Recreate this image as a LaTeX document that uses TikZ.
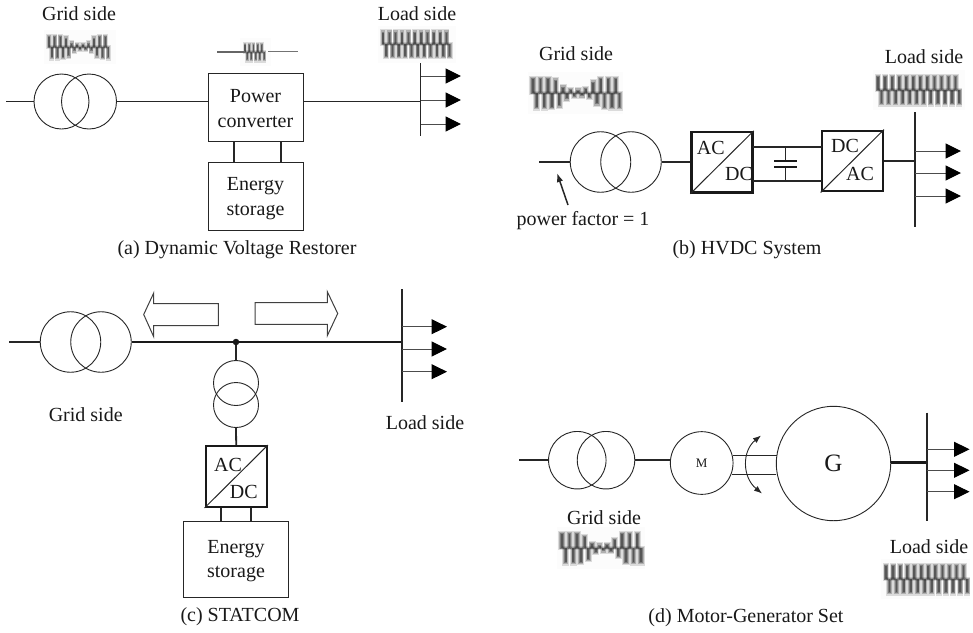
\documentclass[tikz,border=0pt]{standalone}
\usepackage{fontspec}
\setmainfont{Liberation Serif}
\usetikzlibrary{arrows.meta}
\newcommand{\pwmwave}[5]{% x0,x1,ymid,h,dip
  \pgfmathsetmacro{\wspc}{.47*#4}
  \pgfmathtruncatemacro{\wnum}{(#2-#1)/\wspc}
  \fill[black!1] (#1-5,#3-#4-5) rectangle (#2+5,#3+#4+5);
  \foreach \wi in {0,...,\wnum}{
    \pgfmathsetmacro{\wx}{#1+\wi*\wspc}
    \pgfmathsetmacro{\wt}{(\wx-#1)/(#2-#1)}
    \pgfmathsetmacro{\wa}{#4*(1-#5*exp(-((\wt-.5)/.2)^4))}
    \pgfmathsetmacro{\wxb}{\wx+\wspc*.5}
    \foreach \wlw/\wop/\wext in {.95/.13/1.5,.7/.2/0.3,.45/.28/-1,.25/.3/-2}{
      \pgfmathsetmacro{\wl}{\wlw*\wspc}
      \draw[line width=\wl pt,black,opacity=\wop] (\wx,#3-\wa-\wext) -- (\wx,#3+1+.5*\wext);
      \draw[line width=\wl pt,black,opacity=\wop] (\wxb,#3-1-.5*\wext) -- (\wxb,#3+\wa+\wext);
    }
  }
}
\tikzset{
  lbl/.style={font=\fontsize{20}{24.5}\selectfont,inner sep=0pt,align=center,text=black!90},
  xfmr/.style={circle,draw=black!85,line width=0.9pt,inner sep=0pt,minimum size=#1},
  plainbox/.style={rectangle,draw=black!85,line width=1pt,inner sep=0pt,minimum width=#1},
  convbox/.style={rectangle,draw=black!90,line width=2.4pt,inner sep=0pt,minimum width=61pt,minimum height=60.5pt},
  wire/.style={draw=black!85,line width=1.8pt},
  thinwire/.style={draw=black!85,line width=1pt},
  heavywire/.style={draw=black!90,line width=2.4pt},
  loadarrow/.style={draw=black!70,line width=1pt,-{Triangle[length=15.5pt,width=15pt,black]}},
  blockarrow/.style={draw=black!75,line width=1pt,fill=white,line join=miter},
}
\begin{document}
\begin{tikzpicture}[x=1pt,y=-1pt]
\useasboundingbox (0,0) rectangle (973,632);
\fill[white] (0,0) rectangle (973,632);

% ------- waveforms
\pwmwave{49}{111}{47}{12}{.7}
\pwmwave{245}{266}{52}{9}{0}
\draw[line width=2pt,black!60] (217,52) -- (245,52);
\draw[line width=1pt,black!55] (268,51) -- (298,51);
\pwmwave{383}{451}{44}{13.5}{0}
\pwmwave{533}{618}{93}{16}{.72}
\pwmwave{878}{960}{90}{15}{0}
\pwmwave{562}{640}{548}{16}{.72}
\pwmwave{886}{965}{579}{15}{0}

% ------- (a) Dynamic Voltage Restorer
\node[lbl] (aGrid) at (79,14) {Grid side};
\node[lbl] (aLoad) at (417,14) {Load side};
\node[xfmr=55pt] (aT1) at (61.5,101.5) {};
\node[xfmr=55pt] (aT2) at (89,101.5) {};
\node[plainbox=95pt,minimum height=68pt] (aPC) at (255.5,107) {};
\node[lbl] (aPCt) at (255.5,108.5) {Power\\converter};
\node[plainbox=95pt,minimum height=68pt] (aES) at (255.5,196) {};
\node[lbl] (aESt) at (255.5,198.5) {Energy\\storage};
\node[lbl] (aCap) at (237,250) {(a) Dynamic Voltage Restorer};
\coordinate (aIn) at (6,101.5);
\coordinate (aBusT) at (420.5,63);
\coordinate (aBusB) at (420.5,136);
\coordinate (aBusM) at (420.5,101.5);
\draw[wire] (aIn) -- (aT1.west);
\draw[wire] (aT2.east) -- (aT2.east -| aPC.west);
\draw[wire] (aPC.east |- aBusM) -- (aBusM);
\draw[wire,line width=2pt] ([xshift=-22pt]aPC.south) -- ([xshift=-22pt]aES.north);
\draw[wire,line width=2pt] ([xshift=25.5pt]aPC.south) -- ([xshift=25.5pt]aES.north);
\draw[thinwire] (aBusT) -- (aBusB);
\foreach \ly/\ln in {76/a,100/b,124/c}{
  \coordinate (aL\ln s) at (420.5,\ly);
  \coordinate (aL\ln e) at (461,\ly);
  \draw[loadarrow] (aL\ln s) -- (aL\ln e);
}

% ------- (b) HVDC System
\node[lbl] (bGrid) at (576,54) {Grid side};
\node[lbl] (bLoad) at (924,57) {Load side};
\node[xfmr=60.5pt] (bT1) at (600.5,162) {};
\node[xfmr=60.5pt] (bT2) at (631,162) {};
\node[convbox] (bC1) at (722,162.3) {};
\node[convbox] (bC2) at (852.3,161) {};
\draw[thinwire] (bC1.south west) -- (bC1.north east);
\draw[thinwire] (bC2.south west) -- (bC2.north east);
\node[lbl] (bAC1) at (710.7,147.5) {AC};
\node[lbl] (bDC1) at (739,174) {DC};
\node[lbl] (bDC2) at (845,146) {DC};
\node[lbl] (bAC2) at (860,174) {AC};
\node[lbl] (bPF) at (583,221) {power factor = 1};
\node[lbl] (bCap) at (747,250) {(b) HVDC System};
\coordinate (bIn) at (539,162);
\coordinate (bBusT) at (915,112);
\coordinate (bBusB) at (915,227);
\coordinate (bBusM) at (915,161);
\coordinate (bDCtopL) at (753,147.3);
\coordinate (bDCtopR) at (821.7,147.3);
\coordinate (bDCbotL) at (753,180.7);
\coordinate (bDCbotR) at (821.7,180.7);
\coordinate (bCapT) at (785,147.3);
\coordinate (bCapB) at (785,180.7);
\coordinate (bPlateTa) at (774,161);
\coordinate (bPlateTb) at (797,161);
\coordinate (bPlateBa) at (774,167);
\coordinate (bPlateBb) at (797,167);
\coordinate (bArrS) at (568,205);
\coordinate (bArrE) at (557,173);
\draw[wire] (bIn) -- (bT1.west);
\draw[wire] (bT2.east) -- (bT2.east -| bC1.west);
\draw[wire] (bDCtopL) -- (bDCtopR);
\draw[wire] (bDCbotL) -- (bDCbotR);
\draw[thinwire] (bCapT) -- (bCapT |- bPlateTa);
\draw[thinwire] (bCapB) -- (bCapB |- bPlateBa);
\draw[heavywire] (bPlateTa) -- (bPlateTb);
\draw[heavywire] (bPlateBa) -- (bPlateBb);
\draw[wire] (bC2.east |- bBusM) -- (bBusM);
\draw[wire,line width=1.5pt] (bBusT) -- (bBusB);
\draw[wire,line width=1.5pt,-{Latex[length=9pt,width=6.5pt]}] (bArrS) -- (bArrE);
\foreach \ly/\ln in {151/a,173/b,196/c}{
  \coordinate (bL\ln s) at (915,\ly);
  \coordinate (bL\ln e) at (961,\ly);
  \draw[loadarrow] (bL\ln s) -- (bL\ln e);
}

% ------- (c) STATCOM
\node[lbl] (cGrid) at (85.7,415) {Grid side};
\node[lbl] (cLoad) at (425,422.7) {Load side};
\node[xfmr=60.5pt] (cT1) at (70.5,342) {};
\node[xfmr=60.5pt] (cT2) at (101,342) {};
\node[circle,fill=black!90,inner sep=0pt,minimum size=6.5pt] (cDot) at (236,342) {};
\node[xfmr=45pt] (cV1) at (236,383) {};
\node[xfmr=45pt] (cV2) at (236,405) {};
\node[convbox] (cC) at (236.2,476.5) {};
\draw[thinwire] (cC.south west) -- (cC.north east);
\node[lbl] (cAC) at (228,465) {AC};
\node[lbl] (cDC) at (243.7,492) {DC};
\node[plainbox=105.7pt,minimum height=76.3pt] (cES) at (236,559.2) {};
\node[lbl] (cESt) at (236,561) {Energy\\storage};
\node[lbl] (cCap) at (240,617) {(c) STATCOM};
\coordinate (cIn) at (9,342);
\coordinate (cBusT) at (402,289);
\coordinate (cBusB) at (402,402);
\coordinate (cBusM) at (402,342);
\draw[wire,line width=1.5pt] (cIn) -- (cT1.west);
\draw[heavywire] (cT2.east) -- (cDot) -- (cBusM);
\draw[wire] (cDot) -- (cV1.north);
\draw[wire] (cV2.south) -- (cC.north);
\draw[wire] ([xshift=-15.5pt]cC.south) -- ([xshift=-15.5pt]cC.south |- cES.north);
\draw[wire] ([xshift=14.5pt]cC.south) -- ([xshift=14.5pt]cC.south |- cES.north);
\draw[wire] (cBusT) -- (cBusB);
\foreach \ly/\ln in {326.7/a,349/b,371.7/c}{
  \coordinate (cL\ln s) at (402,\ly);
  \coordinate (cL\ln e) at (447,\ly);
  \draw[loadarrow] (cL\ln s) -- (cL\ln e);
}
\draw[blockarrow] (218.3,303.7) -- (153.7,303.7) -- (153.7,293) -- (143.7,314.5) -- (153.7,336.7) -- (153.7,325.7) -- (218.3,325.7) -- cycle;
\draw[blockarrow] (255,302.7) -- (327.3,302.7) -- (327.3,291.7) -- (337.7,313.5) -- (327.3,335.7) -- (327.3,324.3) -- (255,324.3) -- cycle;

% ------- (d) Motor-Generator Set
\node[lbl] (dGrid) at (604,518) {Grid side};
\node[lbl] (dLoad) at (929,546.7) {Load side};
\node[xfmr=57.5pt] (dT1) at (577.3,460.2) {};
\node[xfmr=57.5pt] (dT2) at (606,460.2) {};
\node[xfmr=62.7pt,font=\fontsize{13}{15}\selectfont,text=black!90] (dM) at (701.7,463) {M};
\node[xfmr=114.4pt,font=\fontsize{25}{28}\selectfont,text=black!90] (dG) at (833.5,463.5) {G};
\node[lbl] (dCap) at (746,618) {(d) Motor-Generator Set};
\coordinate (dIn) at (519,460.2);
\coordinate (dShTa) at (733,455);
\coordinate (dShTb) at (776.6,455);
\coordinate (dShBa) at (732,474);
\coordinate (dShBb) at (776,474);
\coordinate (dBusT) at (926.7,412.7);
\coordinate (dBusB) at (926.7,520.7);
\coordinate (dBusM) at (926.7,462.7);
\coordinate (dRotA) at (761,435.5);
\coordinate (dRotB) at (762,493.5);
\draw[wire] (dIn) -- (dT1.west);
\draw[wire] (dT2.east) -- (dT2.east -| dM.west);
\draw[thinwire] (dShTa) -- (dShTb);
\draw[thinwire] (dShBa) -- (dShBb);
\draw[line width=.9pt,draw=black!85,{Latex[length=8pt,width=6pt]}-{Latex[length=8pt,width=6pt]}] (dRotA) .. controls (742,451) and (742,477) .. (dRotB);
\draw[line width=2.8pt,draw=black!90] (dG.east |- dBusM) -- (dBusM);
\draw[wire] (dBusT) -- (dBusB);
\foreach \ly/\ln in {449.3/a,470.3/b,491.7/c}{
  \coordinate (dL\ln s) at (926.7,\ly);
  \coordinate (dL\ln e) at (969.5,\ly);
  \draw[loadarrow] (dL\ln s) -- (dL\ln e);
}
\end{tikzpicture}
\end{document}
